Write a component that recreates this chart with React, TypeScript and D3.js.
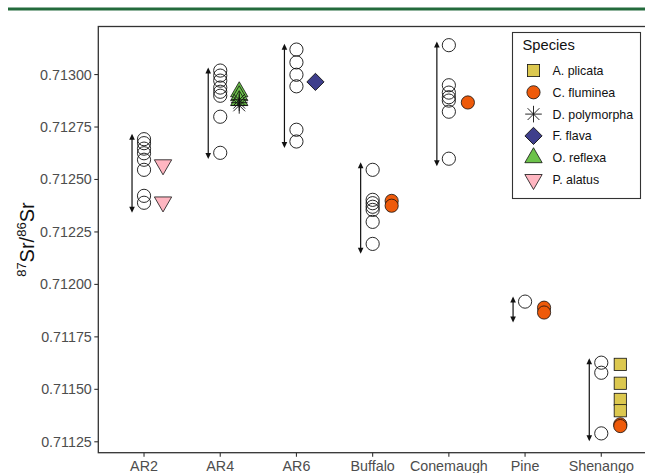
import React from "react";
import * as d3 from "d3";

// Sampling sites along the x axis
const sites = ["AR2", "AR4", "AR6", "Buffalo", "Conemaugh", "Pine", "Shenango"];

// Water samples (open circles)
const waterSite = [
  "AR2", "AR2", "AR2", "AR2", "AR2", "AR2", "AR2", "AR2",
  "AR4", "AR4", "AR4", "AR4", "AR4", "AR4", "AR4", "AR4",
  "AR6", "AR6", "AR6", "AR6", "AR6", "AR6",
  "Buffalo", "Buffalo", "Buffalo", "Buffalo", "Buffalo", "Buffalo", "Buffalo",
  "Conemaugh", "Conemaugh", "Conemaugh", "Conemaugh", "Conemaugh", "Conemaugh", "Conemaugh",
  "Pine",
  "Shenango", "Shenango", "Shenango",
];
const waterValue = [
  0.712692, 0.712673, 0.712647, 0.712625, 0.712594, 0.712546, 0.712422, 0.712389,
  0.713019, 0.712995, 0.712971, 0.712938, 0.712918, 0.712899, 0.712799, 0.712627,
  0.713119, 0.713058, 0.712999, 0.712944, 0.712737, 0.712681,
  0.712546, 0.712403, 0.712387, 0.71237, 0.712355, 0.712298, 0.712193,
  0.71314, 0.712949, 0.712914, 0.712892, 0.712876, 0.712823, 0.712599,
  0.711918,
  0.711627, 0.711579, 0.71129,
];

// Water range per site (double-headed arrows)
const rangeLow = [0.712341, 0.712597, 0.71265, 0.712146, 0.712563, 0.711818, 0.711253];
const rangeHigh = [0.712718, 0.713034, 0.713147, 0.712582, 0.713157, 0.711942, 0.711648];

// Shell samples by species
const shellSite = [
  "AR2", "AR2",
  "AR4", "AR4", "AR4",
  "AR4", "AR4", "AR4",
  "AR6",
  "Buffalo", "Buffalo",
  "Conemaugh",
  "Pine", "Pine",
  "Shenango", "Shenango", "Shenango", "Shenango",
  "Shenango", "Shenango",
];
const shellSpecies = [
  "P. alatus", "P. alatus",
  "O. reflexa", "O. reflexa", "O. reflexa",
  "D. polymorpha", "D. polymorpha", "D. polymorpha",
  "F. flava",
  "C. fluminea", "C. fluminea",
  "C. fluminea",
  "C. fluminea", "C. fluminea",
  "A. plicata", "A. plicata", "A. plicata", "A. plicata",
  "C. fluminea", "C. fluminea",
];
const shellValue = [
  0.71257, 0.712393,
  0.712918, 0.712899, 0.712876,
  0.71288, 0.712866, 0.712853,
  0.712965,
  0.712398, 0.712375,
  0.712867,
  0.711889, 0.711866,
  0.711619, 0.711529, 0.711452, 0.711398,
  0.711333, 0.711325,
];

const speciesNames = ["A. plicata", "C. fluminea", "D. polymorpha", "F. flava", "O. reflexa", "P. alatus"];
const speciesShape = ["square", "circle", "asterisk", "diamond", "triangleUp", "triangleDown"];
const speciesFill = ["#dcc84f", "#ee5a0a", "none", "#3f3f8c", "#6cc24a", "#ffb6c1"];

const yTicks = [0.71125, 0.7115, 0.71175, 0.712, 0.71225, 0.7125, 0.71275, 0.713];

const FONT = "'Liberation Sans', Arial, Helvetica, sans-serif";
const W = 645;
const H = 473;
const panel = { left: 98.3, right: 647, top: 26.5, bottom: 452.7 };

const x = d3
  .scalePoint<string>()
  .domain(sites)
  .range([panel.left, panel.right])
  .padding(0.6);
const y = d3.scaleLinear().domain([0.711198, 0.713229]).range([panel.bottom, panel.top]);
const fmt = d3.format(".5f");

const WATER_DX = 0;
const SHELL_DX = 19;
const ARROW_DX = -12;

function Symbol({ shape, fill, cx, cy }: { shape: string; fill: string; cx: number; cy: number }) {
  const stroke = "#111";
  if (shape === "square") {
    const s = 12.2;
    return <rect x={cx - s / 2} y={cy - s / 2} width={s} height={s} fill={fill} stroke={stroke} strokeWidth={0.8} />;
  }
  if (shape === "circle") {
    return <circle cx={cx} cy={cy} r={6.6} fill={fill} stroke={stroke} strokeWidth={0.8} />;
  }
  if (shape === "diamond") {
    const r = 8.6;
    const d = `M${cx},${cy - r}L${cx + r},${cy}L${cx},${cy + r}L${cx - r},${cy}Z`;
    return <path d={d} fill={fill} stroke={stroke} strokeWidth={0.9} />;
  }
  if (shape === "triangleUp" || shape === "triangleDown") {
    const r = 10;
    const s = shape === "triangleUp" ? -1 : 1;
    const half = (r * Math.sqrt(3)) / 2;
    const d = `M${cx},${cy + s * r}L${cx + half},${cy - (s * r) / 2}L${cx - half},${cy - (s * r) / 2}Z`;
    return <path d={d} fill={fill} stroke={stroke} strokeWidth={0.8} />;
  }
  // asterisk: plus + cross
  const p = 8.3;
  const c = 5.9;
  const d = `M${cx - p},${cy}L${cx + p},${cy}M${cx},${cy - p}L${cx},${cy + p}` +
    `M${cx - c},${cy - c}L${cx + c},${cy + c}M${cx - c},${cy + c}L${cx + c},${cy - c}`;
  return <path d={d} fill="none" stroke="#111" strokeWidth={0.9} />;
}

function RangeArrow({ xPos, y1, y2 }: { xPos: number; y1: number; y2: number }) {
  const len = 6;
  const hw = 2.8;
  return (
    <g>
      <line x1={xPos} x2={xPos} y1={y1 + 2} y2={y2 - 2} stroke="#111" strokeWidth={1.2} />
      <path d={`M${xPos},${y1}L${xPos + hw},${y1 + len}L${xPos - hw},${y1 + len}Z`} fill="#111" />
      <path d={`M${xPos},${y2}L${xPos + hw},${y2 - len}L${xPos - hw},${y2 - len}Z`} fill="#111" />
    </g>
  );
}

export default function App() {
  const legendX = 512.5;
  const legendY = 32.5;
  const rowY0 = 70.5;
  const rowStep = 21.8;

  return (
    <svg
      width={W}
      height={H}
      viewBox={`0 0 ${W} ${H}`}
      style={{ position: "absolute", left: 0, top: 0, background: "#fff" }}
      fontFamily={FONT}
    >
      <rect x={0} y={0} width={W} height={H} fill="#fff" />
      <rect x={8} y={7.5} width={W - 8} height={3} fill="#236b3c" />

      {/* range arrows */}
      {sites.map((s, i) => (
        <RangeArrow key={s} xPos={(x(s) as number) + ARROW_DX} y1={y(rangeHigh[i])} y2={y(rangeLow[i])} />
      ))}

      {/* water samples */}
      {waterValue.map((v, i) => (
        <circle
          key={`w${i}`}
          cx={(x(waterSite[i]) as number) + WATER_DX}
          cy={y(v)}
          r={6.6}
          fill="none"
          stroke="#111"
          strokeWidth={0.9}
        />
      ))}

      {/* shell samples */}
      {shellValue.map((v, i) => {
        const k = speciesNames.indexOf(shellSpecies[i]);
        return (
          <Symbol
            key={`s${i}`}
            shape={speciesShape[k]}
            fill={speciesFill[k]}
            cx={(x(shellSite[i]) as number) + SHELL_DX}
            cy={y(v)}
          />
        );
      })}

      {/* panel border */}
      <rect
        x={panel.left}
        y={panel.top}
        width={panel.right - panel.left}
        height={panel.bottom - panel.top}
        fill="none"
        stroke="#333"
        strokeWidth={1.3}
      />

      {/* y axis */}
      {yTicks.map((t) => (
        <g key={t}>
          <line x1={panel.left - 4} x2={panel.left} y1={y(t)} y2={y(t)} stroke="#333" strokeWidth={1.1} />
          <text x={panel.left - 6.5} y={y(t) + 5} textAnchor="end" fontSize={14.3} fill="#4d4d4d">
            {fmt(t)}
          </text>
        </g>
      ))}

      {/* x axis */}
      {sites.map((s) => (
        <g key={s}>
          <line x1={x(s)} x2={x(s)} y1={panel.bottom} y2={panel.bottom + 4} stroke="#333" strokeWidth={1.1} />
          <text x={x(s)} y={470.5} textAnchor="middle" fontSize={14.3} fill="#4d4d4d">
            {s}
          </text>
        </g>
      ))}

      {/* y axis title */}
      <text
        transform={`translate(34, ${(panel.top + panel.bottom) / 2}) rotate(-90)`}
        textAnchor="middle"
        fontSize={20}
        fill="#111"
      >
        <tspan fontSize={13} dy={-8}>87</tspan>
        <tspan dy={8}>Sr/</tspan>
        <tspan fontSize={13} dy={-8}>86</tspan>
        <tspan dy={8}>Sr</tspan>
      </text>

      {/* legend */}
      <rect x={legendX} y={legendY} width={128} height={166} fill="#fff" stroke="#333" strokeWidth={1.1} />
      <text x={522.5} y={49.5} fontSize={14.7} fill="#111">Species</text>
      {speciesNames.map((n, i) => {
        const cy = rowY0 + i * rowStep;
        return (
          <g key={n}>
            <Symbol shape={speciesShape[i]} fill={speciesFill[i]} cx={533.5} cy={cy} />
            <text x={552.5} y={cy + 4.5} fontSize={12.4} fill="#111">
              {n}
            </text>
          </g>
        );
      })}
    </svg>
  );
}
